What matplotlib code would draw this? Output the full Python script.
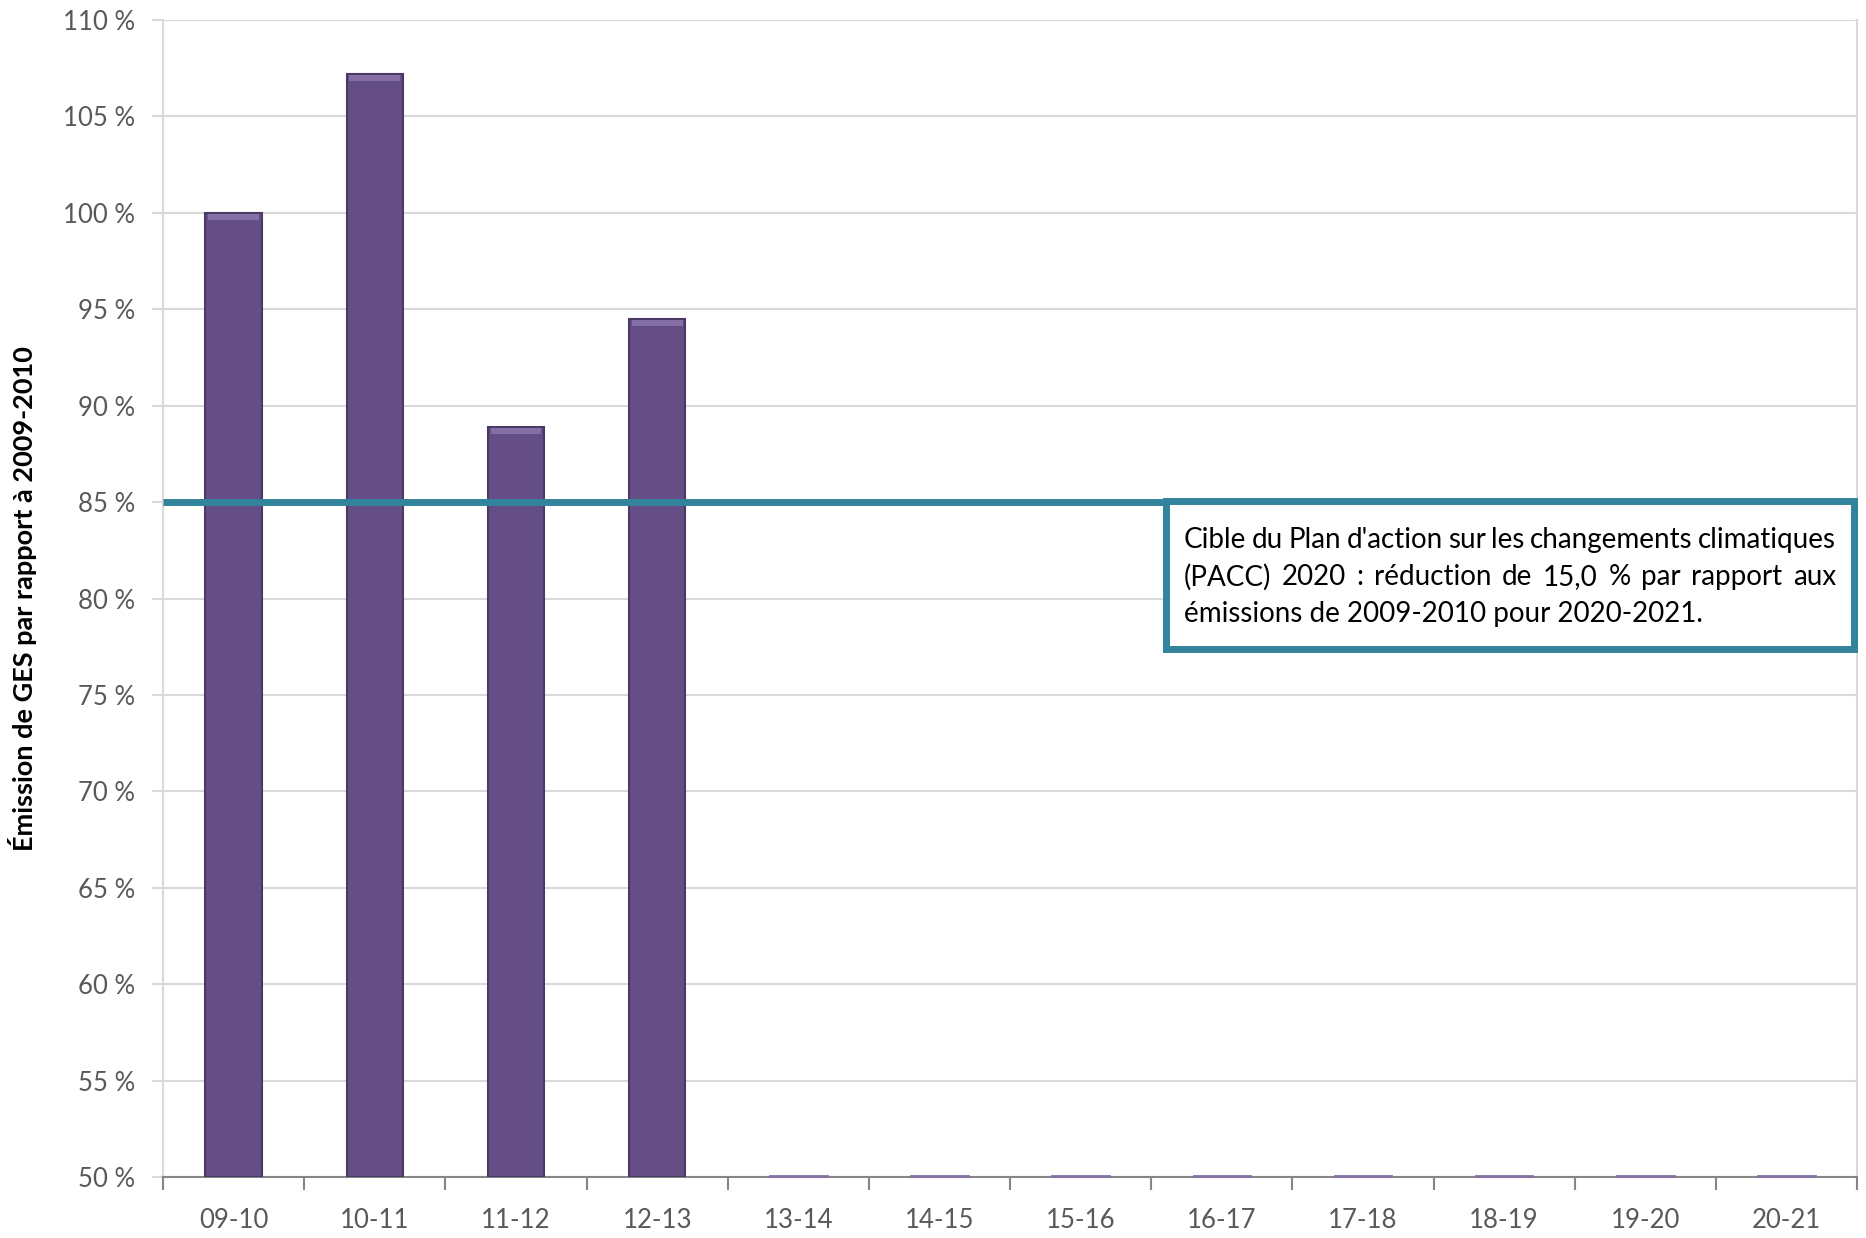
import matplotlib
matplotlib.use("Agg")
import matplotlib.pyplot as plt
from matplotlib.patches import Rectangle

# data
years = ['09-10', '10-11', '11-12', '12-13', '13-14', '14-15', '15-16',
         '16-17', '17-18', '18-19', '19-20', '20-21']
emissions = [100.0, 107.2, 88.9, 94.5, 0, 0, 0, 0, 0, 0, 0, 0]
target = 85.0
yticks = [50, 55, 60, 65, 70, 75, 80, 85, 90, 95, 100, 105, 110]
ylabel = "Émission de GES par rapport à 2009-2010"
note_lines = ["Cible du Plan d'action sur les changements climatiques",
              "(PACC) 2020 : réduction de 15,0 % par rapport aux",
              "émissions de 2009-2010 pour 2020-2021."]

plt.rcParams['font.family'] = ['Lato', 'DejaVu Sans']

fig = plt.figure(figsize=(18.66, 12.38), dpi=100)
ax = fig.add_axes([0.0874, 0.0493, 0.9078, 0.9345])

ymin = 50
x = list(range(len(years)))
heights = [max(v - ymin, 0) for v in emissions]
ax.bar(x, heights, bottom=ymin, width=0.40, color='#654E85',
       edgecolor='#4A3966', linewidth=1.5, zorder=3)
# light bevel on top of bars, purple edge for empty years
for xi, v in zip(x, emissions):
    if v > ymin:
        ax.bar(xi, 0.3, bottom=v - 0.35, width=0.36, color='#8470A5',
               linewidth=0, zorder=4)
    else:
        ax.plot([xi - 0.2, xi + 0.2], [ymin + 0.05, ymin + 0.05],
                color='#8470A5', linewidth=2, zorder=4, clip_on=False)

ax.set_xlim(-0.5, len(years) - 0.5)
ax.set_ylim(ymin, 110)
ax.set_yticks(yticks)
ax.set_yticklabels([f"{t} %" for t in yticks], fontsize=18.5, color='#595959')
ax.set_xticks(x)
ax.set_xticklabels(years, fontsize=18.5, color='#595959')
ax.set_xticks([i - 0.5 for i in range(len(years) + 1)], minor=True)
ax.tick_params(axis='x', which='major', length=0, pad=22)
ax.tick_params(axis='x', which='minor', length=9, width=1.5, color='#868686')
ax.tick_params(axis='y', length=8, width=1.5, color='#D9D9D9', pad=12)

ax.grid(axis='y', color='#D9D9D9', linewidth=1.5, zorder=0)
for s in ['left', 'right', 'top']:
    ax.spines[s].set_color('#D9D9D9')
    ax.spines[s].set_linewidth(1.5)
ax.spines['top'].set_visible(False)
ax.spines['bottom'].set_color('#868686')
ax.spines['bottom'].set_linewidth(1.5)

ax.set_ylabel(ylabel, fontsize=19.5, fontweight='bold', color='black')
ax.yaxis.set_label_coords(-0.0745, 0.5)

# target line
ax.plot([-0.5, 11.36], [target, target], color='#31849B', linewidth=5, zorder=5,
        solid_capstyle='butt')

# note box
box = Rectangle((0.592, 0.456), 0.406, 0.128, transform=ax.transAxes,
                facecolor='white', edgecolor='#31849B', linewidth=5, zorder=6,
                clip_on=False)
ax.add_patch(box)

# justified text inside the box
renderer = fig.canvas.get_renderer()
left_px, right_px = 1184, 1836
top_px = 540
line_h = 37
fs = 20
W, H = fig.bbox.width, fig.bbox.height
for i, line in enumerate(note_lines):
    words = line.split(' ')
    yf = 1 - (top_px + i * line_h) / H
    if i == len(note_lines) - 1:
        fig.text(left_px / W, yf, line, fontsize=fs, color='black',
                 va='center', ha='left', zorder=7)
        continue
    widths = []
    for w in words:
        t = fig.text(0, 0, w, fontsize=fs)
        widths.append(t.get_window_extent(renderer).width)
        t.remove()
    gap = (right_px - left_px - sum(widths)) / (len(words) - 1)
    xp = left_px
    for w, wd in zip(words, widths):
        fig.text(xp / W, yf, w, fontsize=fs, color='black',
                 va='center', ha='left', zorder=7)
        xp += wd + gap

fig.savefig('out.png', dpi=100, facecolor='white')
